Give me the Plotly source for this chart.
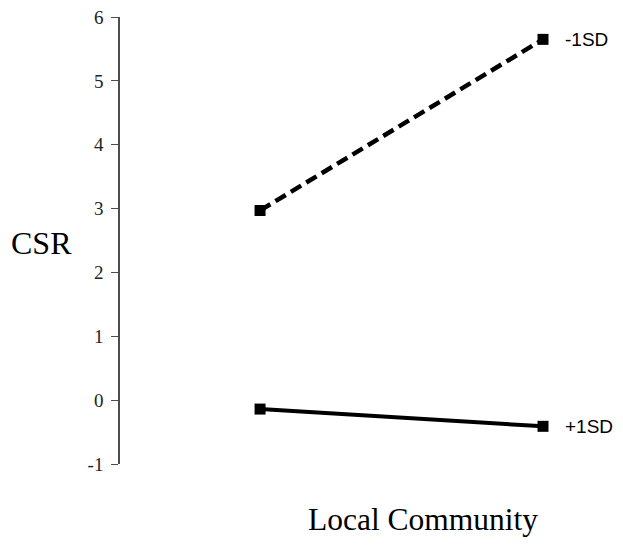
import plotly.graph_objects as go

x_levels = [0, 1]
series_names = ["-1SD", "+1SD"]
minus_sd = [2.97, 5.65]
plus_sd = [-0.14, -0.41]
y_ticks = [-1, 0, 1, 2, 3, 4, 5, 6]
y_tick_text = ["-1", "0", "1", "2", "3", "4", "5", "6"]

fig = go.Figure()
fig.add_trace(go.Scatter(
    x=x_levels, y=minus_sd, mode="lines+markers", name=series_names[0],
    line=dict(color="black", width=4.5, dash="12px,6px"),
    marker=dict(symbol="square", size=11, color="black"),
))
fig.add_trace(go.Scatter(
    x=x_levels, y=plus_sd, mode="lines+markers", name=series_names[1],
    line=dict(color="black", width=4),
    marker=dict(symbol="square", size=11, color="black"),
))

for name, vals in zip(series_names, [minus_sd, plus_sd]):
    fig.add_annotation(x=x_levels[-1], y=vals[-1], text=name, showarrow=False,
                       xanchor="left", yanchor="middle", xshift=20,
                       font=dict(family="Liberation Sans, Arial", size=19, color="black"))

fig.add_annotation(xref="paper", yref="paper", x=-0.164, y=0.494, text="CSR",
                   showarrow=False, xanchor="center", yanchor="middle",
                   font=dict(family="Liberation Serif, Times New Roman", size=32, color="black"))
fig.add_annotation(xref="paper", yref="paper", x=0.630, y=-0.124, text="Local Community",
                   showarrow=False, xanchor="center", yanchor="middle",
                   font=dict(family="Liberation Serif, Times New Roman", size=31.5, color="black"))

fig.update_layout(
    width=615, height=545,
    margin=dict(l=112, r=22, t=9, b=89),
    paper_bgcolor="white", plot_bgcolor="white",
    showlegend=False,
    xaxis=dict(range=[-0.495, 1.205], visible=False, fixedrange=True),
    yaxis=dict(range=[-1, 6.0001], tickvals=y_ticks, ticktext=y_tick_text,
               showgrid=False, zeroline=False, automargin=False,
               ticklabeloverflow="allow",
               showline=True, linecolor="#4d4d4d", linewidth=1.5,
               ticks="outside", ticklen=7, tickcolor="#4d4d4d", tickwidth=1.3,
               tickfont=dict(family="Liberation Serif, Times New Roman", size=19, color="#222"),
               ticklabelstandoff=4),
)

fig.write_html("out.html")
